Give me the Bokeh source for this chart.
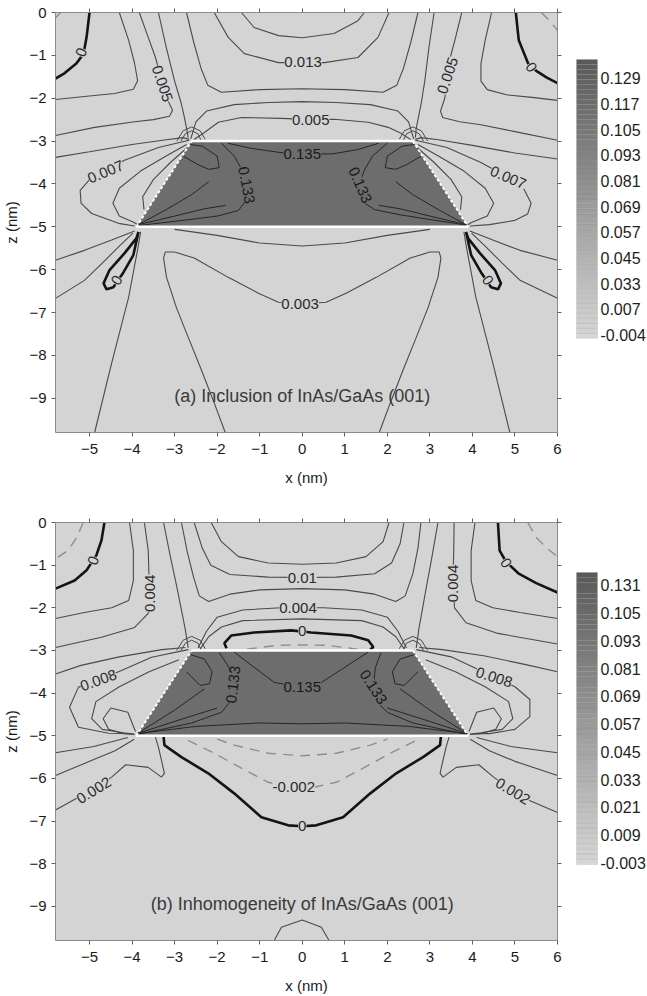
import numpy as np
from bokeh.plotting import figure
from bokeh.models import Range1d, LinearAxis, FixedTicker, ColumnDataSource, LabelSet, Label
from bokeh.layouts import row, column
from bokeh.embed import file_html
from bokeh.resources import INLINE
from bokeh.core.properties import value

FONT = "Liberation Sans"
X_TICKS = [-5, -4, -3, -2, -1, 0, 1, 2, 3, 4, 5, 6]
Z_TICKS = [0, -1, -2, -3, -4, -5, -6, -7, -8, -9]
X_RANGE = (-5.8, 6.0)
Z_RANGE = (-9.8, 0.0)

# quantum-dot cross-section (trapezoid)
TRAP_X = [-3.9, -2.6, 2.6, 3.9]
TRAP_Z = [-5.0, -3.0, -3.0, -5.0]

# small horseshoe contours hugging the top corners (both panels)
CORNER_X = [
    [-2.85, -2.75, -2.60, -2.45, -2.38],
    [-2.95, -2.80, -2.60, -2.40, -2.28],
    [2.85, 2.75, 2.60, 2.45, 2.38],
    [2.95, 2.80, 2.60, 2.40, 2.28],
]
CORNER_Z = [
    [-3.00, -2.83, -2.76, -2.83, -2.98],
    [-3.00, -2.76, -2.67, -2.76, -2.96],
    [-3.00, -2.83, -2.76, -2.83, -2.98],
    [-3.00, -2.76, -2.67, -2.76, -2.96],
]

# ---------------- panel (a) ----------------
A_TITLE = "(a) Inclusion of InAs/GaAs (001)"
A_CBAR_LABELS = ["0.129", "0.117", "0.105", "0.093", "0.081", "0.069",
                 "0.057", "0.045", "0.033", "0.007", "-0.004"]

A_THIN_X = [
    [-4.30, -4.08, -3.94, -3.87, -3.97, -4.41, -5.12, -5.80],
    [-3.83, -3.62, -3.45, -3.30, -3.19, -3.05, -3.12, -3.50, -3.94, -4.88, -5.80],
    [-3.38, -3.20, -3.00, -2.85, -2.78, -2.72, -2.68],
    [-2.72, -2.55, -2.38, -2.22, -1.90, -1.00, 0.00, 1.00, 1.90, 2.22, 2.38, 2.55, 2.72],
    [-2.07, -1.74, -1.36, -0.56, 0.00, 0.52, 1.31, 1.78, 2.04],
    [-1.43, -1.13, -0.56, 0.00, 0.75, 1.31, 1.46],
    [-2.62, -2.50, -2.25, -1.60, -0.80, 0.00, 0.80, 1.60, 2.25, 2.50, 2.62],
    [-2.55, -2.30, -1.97, -1.43, -0.49, 0.20, 0.75, 1.55, 2.02, 2.32, 2.56],
    [-5.80, -5.00, -4.00, -3.20, -2.80, -2.66],
    [-2.66, -3.38, -4.18, -4.62, -5.00, -5.22, -5.20, -4.95, -4.32, -3.94],
    [-2.72, -3.20, -3.80, -4.30, -4.45, -4.30, -3.95, -3.85],
    [-2.70, -3.10, -3.50, -3.75, -3.72],
    [-5.80, -5.12, -4.48, -3.94],
    [-5.80, -5.12, -4.70, -4.30, -3.98],
    [-4.88, -4.48, -4.08, -3.86, -3.80],
    [-1.81, -2.07, -2.37, -2.68, -2.96, -3.19, -3.26, -3.22, -3.00, -2.54, -1.74, -1.03, -0.56, 0.00,
     0.56, 1.03, 1.74, 2.54, 3.00, 3.22, 3.26, 3.19, 2.96, 2.68, 2.37, 2.07, 1.81],
    [-3.00, -2.00, -1.00, 0.00, 1.00, 2.00, 3.00],
    [4.45, 4.30, 4.20, 4.20, 4.35, 4.80, 5.40, 6.00],
    [3.75, 3.60, 3.48, 3.42, 3.35, 3.25, 3.30, 3.70, 4.20, 5.00, 6.00],
    [3.10, 2.98, 2.88, 2.80, 2.74, 2.68, 2.66],
    [6.00, 5.00, 4.00, 3.20, 2.80, 2.66],
    [2.66, 3.40, 4.20, 4.84, 5.20, 5.38, 5.30, 5.00, 4.40, 3.94],
    [2.72, 3.20, 3.80, 4.30, 4.50, 4.35, 3.98, 3.86],
    [2.70, 3.10, 3.50, 3.75, 3.72],
    [6.00, 5.12, 4.48, 3.94],
    [6.00, 5.12, 4.70, 4.30, 3.98],
    [4.88, 4.48, 4.08, 3.86, 3.80],
]
A_THIN_Z = [
    [0.00, -0.65, -1.19, -1.59, -1.79, -1.89, -1.96, -2.03],
    [0.00, -0.58, -1.05, -1.60, -1.98, -2.28, -2.42, -2.50, -2.55, -2.68, -2.87],
    [0.00, -0.80, -1.60, -2.10, -2.40, -2.70, -2.92],
    [0.00, -0.70, -1.30, -1.70, -1.86, -1.80, -1.78, -1.80, -1.86, -1.70, -1.30, -0.70, 0.00],
    [0.00, -0.58, -0.96, -1.17, -1.17, -1.17, -1.05, -0.58, 0.00],
    [0.00, -0.35, -0.54, -0.59, -0.49, -0.19, 0.00],
    [-2.95, -2.55, -2.30, -2.15, -2.10, -2.08, -2.10, -2.15, -2.30, -2.55, -2.95],
    [-2.97, -2.80, -2.56, -2.45, -2.47, -2.50, -2.49, -2.56, -2.68, -2.82, -2.97],
    [-3.38, -3.25, -3.08, -2.97, -2.92, -2.96],
    [-2.98, -3.15, -3.45, -3.68, -3.90, -4.15, -4.45, -4.69, -4.92, -4.98],
    [-3.08, -3.35, -3.70, -4.10, -4.45, -4.75, -4.90, -4.97],
    [-3.15, -3.50, -3.90, -4.30, -4.60],
    [-5.78, -5.55, -5.31, -5.10],
    [-6.67, -6.25, -5.85, -5.45, -5.15],
    [-9.80, -8.18, -6.64, -5.48, -5.12],
    [-9.80, -9.11, -8.34, -7.58, -6.88, -6.18, -5.73, -5.59, -5.59, -5.73, -6.18, -6.55, -6.76, -6.80,
     -6.76, -6.55, -6.18, -5.73, -5.59, -5.59, -5.73, -6.18, -6.88, -7.58, -8.34, -9.11, -9.80],
    [-5.06, -5.20, -5.38, -5.45, -5.38, -5.20, -5.06],
    [0.00, -0.65, -1.20, -1.60, -1.80, -1.92, -1.98, -2.05],
    [0.00, -0.60, -1.05, -1.47, -2.00, -2.30, -2.45, -2.55, -2.62, -2.78, -2.98],
    [0.00, -0.80, -1.60, -2.10, -2.40, -2.70, -2.92],
    [-3.42, -3.28, -3.10, -2.97, -2.92, -2.96],
    [-2.98, -3.15, -3.50, -3.85, -4.10, -4.45, -4.70, -4.85, -4.95, -4.98],
    [-3.08, -3.35, -3.70, -4.10, -4.45, -4.75, -4.90, -4.97],
    [-3.15, -3.50, -3.90, -4.30, -4.60],
    [-5.78, -5.55, -5.31, -5.10],
    [-6.67, -6.25, -5.85, -5.45, -5.15],
    [-9.80, -8.18, -6.64, -5.48, -5.12],
]
A_INNER_X = [
    [-1.75, -1.20, -0.50, 0.00, 0.70, 1.30, 1.80],
    [-1.90, -1.60, -1.40, -1.31, -1.33, -1.50, -2.00, -2.80, -3.50, -3.85],
    [2.00, 1.65, 1.45, 1.34, 1.40, 1.70, 2.30, 3.00, 3.60, 3.88],
    [-2.63, -2.35, -2.00, -1.95, -2.20, -2.45, -2.80],
    [2.63, 2.35, 2.00, 1.95, 2.20, 2.45, 2.80],
    [-3.85, -3.20, -2.60, -2.20],
    [-3.85, -3.00, -2.30, -1.80],
    [3.85, 3.20, 2.60, 2.20],
    [3.85, 3.00, 2.30, 1.80],
]
A_INNER_Z = [
    [-3.05, -3.17, -3.27, -3.30, -3.30, -3.20, -3.05],
    [-3.05, -3.35, -3.70, -4.03, -4.40, -4.62, -4.75, -4.85, -4.93, -4.97],
    [-3.05, -3.35, -3.70, -4.03, -4.40, -4.60, -4.72, -4.83, -4.92, -4.97],
    [-3.08, -3.12, -3.35, -3.62, -3.66, -3.55, -3.35],
    [-3.08, -3.12, -3.35, -3.62, -3.66, -3.55, -3.35],
    [-4.95, -4.60, -4.25, -3.95],
    [-4.95, -4.75, -4.58, -4.50],
    [-4.95, -4.60, -4.25, -3.95],
    [-4.95, -4.75, -4.58, -4.50],
]
A_ZERO_X = [
    [-5.00, -5.07, -5.14, -5.31, -5.59, -5.80],
    [5.02, 5.09, 5.31, 5.50, 5.75, 6.00],
    [-3.85, -3.90, -4.18, -4.53, -4.67, -4.60, -4.44, -4.20, -3.97, -3.85],
    [3.85, 3.90, 4.18, 4.53, 4.67, 4.60, 4.44, 4.20, 3.97, 3.85],
]
A_ZERO_Z = [
    [0.00, -0.58, -0.96, -1.19, -1.42, -1.54],
    [0.00, -0.65, -1.19, -1.36, -1.52, -1.65],
    [-5.12, -5.27, -5.62, -6.01, -6.32, -6.46, -6.41, -6.06, -5.66, -5.12],
    [-5.12, -5.27, -5.62, -6.01, -6.32, -6.46, -6.41, -6.06, -5.66, -5.12],
]
A_NEG_X = [[5.62, 5.82, 6.00], [-5.68, -5.80]]
A_NEG_Z = [[0.00, -0.20, -0.42], [0.00, -0.12]]

A_LABEL_TEXT = ["0", "0", "0", "0", "0.005", "0.005", "0.013", "0.005", "0.007", "0.007", "0.003"]
A_LABEL_X = [-5.19, 5.38, -4.36, 4.36, -3.29, 3.42, 0.02, 0.20, -4.62, 4.84, -0.05]
A_LABEL_Z = [-0.93, -1.28, -6.25, -6.25, -1.66, -1.47, -1.16, -2.50, -3.72, -3.85, -6.79]
A_LABEL_ANGLE = [1.2, -1.0, 1.0, -1.0, -1.25, 1.25, 0.0, 0.0, 0.40, -0.40, 0.0]

A_IN_TEXT = ["0.135", "0.133", "0.133"]
A_IN_X = [0.00, -1.31, 1.36]
A_IN_Z = [-3.30, -4.03, -4.03]
A_IN_ANGLE = [0.0, -1.38, -1.15]

# ---------------- panel (b) ----------------
B_TITLE = "(b) Inhomogeneity of InAs/GaAs (001)"
B_CBAR_LABELS = ["0.131", "0.105", "0.093", "0.081", "0.069", "0.057",
                 "0.045", "0.033", "0.021", "0.009", "-0.003"]

B_THIN_X = [
    [-4.06, -3.97, -3.97, -4.08, -4.48, -5.12, -5.80],
    [-3.71, -3.62, -3.59, -3.62, -3.94, -4.72, -5.80],
    [-3.26, -3.10, -2.95, -2.85, -2.75, -2.68],
    [-2.84, -2.70, -2.55, -2.42, -2.20, -1.70, -1.00, 0.00, 1.00, 1.70, 2.20, 2.42, 2.60, 2.72, 2.79],
    [-2.54, -2.35, -2.15, -1.70, -0.80, 0.00, 0.80, 1.70, 2.10, 2.30, 2.39],
    [-2.14, -1.90, -1.50, -0.80, 0.00, 0.80, 1.50, 1.90, 2.04],
    [-2.45, -2.25, -2.00, -1.40, -0.50, 0.50, 1.40, 2.00, 2.25, 2.45],
    [-2.40, -2.20, -1.90, -1.40, 0.00, 1.40, 1.90, 2.20, 2.40],
    [-5.80, -5.20, -4.30, -3.30, -2.75],
    [-2.68, -3.54, -4.25, -4.79, -5.26, -5.47, -5.26, -4.55, -4.01],
    [-2.90, -3.60, -4.30, -4.85, -4.95, -4.70, -4.20, -3.95],
    [-3.92, -4.10, -4.50, -4.68, -4.55, -4.20, -3.94],
    [-5.80, -5.26, -4.90, -4.48, -4.15, -3.62, -3.31, -3.24, -3.31, -3.38, -3.45],
    [-5.80, -5.00, -4.40, -3.95],
    [-5.80, -4.90, -4.10],
    [-0.66, -0.49, 0.00, 0.45, 0.63],
    [4.06, 3.97, 3.97, 4.08, 4.48, 5.12, 6.00],
    [3.57, 3.56, 3.54, 3.58, 3.85, 4.60, 6.00],
    [3.19, 3.05, 2.92, 2.83, 2.74, 2.68],
    [6.00, 5.20, 4.30, 3.30, 2.75],
    [2.68, 3.50, 4.00, 4.51, 5.00, 5.35, 5.35, 5.00, 4.40, 4.01],
    [2.90, 3.60, 4.30, 4.85, 4.95, 4.70, 4.20, 3.95],
    [3.92, 4.10, 4.50, 4.68, 4.55, 4.20, 3.94],
    [6.00, 5.30, 4.95, 4.50, 4.15, 3.62, 3.31, 3.24, 3.31, 3.38, 3.45],
    [6.00, 5.00, 4.40, 3.95],
    [6.00, 4.90, 4.10],
]
B_THIN_Z = [
    [0.00, -0.66, -1.36, -1.83, -2.00, -2.11, -2.25],
    [0.00, -0.66, -1.66, -2.13, -2.46, -2.69, -2.93],
    [0.00, -0.80, -1.50, -2.00, -2.50, -2.94],
    [0.00, -0.70, -1.30, -1.72, -1.85, -1.68, -1.58, -1.55, -1.58, -1.68, -1.85, -1.72, -1.20, -0.60, 0.00],
    [0.00, -0.60, -1.00, -1.22, -1.28, -1.29, -1.28, -1.20, -0.95, -0.50, 0.00],
    [0.00, -0.45, -0.80, -0.95, -0.98, -0.95, -0.80, -0.45, 0.00],
    [-2.94, -2.55, -2.22, -2.05, -2.00, -2.00, -2.05, -2.22, -2.55, -2.94],
    [-2.97, -2.68, -2.45, -2.30, -2.26, -2.30, -2.45, -2.68, -2.97],
    [-3.55, -3.35, -3.15, -2.98, -2.93],
    [-2.98, -3.16, -3.47, -3.70, -3.86, -4.33, -4.80, -4.94, -4.95],
    [-3.22, -3.50, -3.85, -4.20, -4.60, -4.85, -4.93, -4.96],
    [-4.90, -4.45, -4.35, -4.60, -4.85, -4.95, -4.97],
    [-6.74, -6.44, -6.28, -5.97, -5.68, -5.74, -5.97, -5.88, -5.57, -5.27, -5.03],
    [-5.93, -5.60, -5.35, -5.08],
    [-5.40, -5.25, -5.04],
    [-9.80, -9.49, -9.32, -9.49, -9.80],
    [0.00, -0.66, -1.36, -1.83, -2.00, -2.11, -2.25],
    [0.00, -0.70, -1.43, -2.00, -2.35, -2.60, -2.85],
    [0.00, -0.80, -1.50, -2.00, -2.50, -2.94],
    [-3.50, -3.32, -3.13, -2.98, -2.93],
    [-2.98, -3.15, -3.38, -3.63, -3.85, -4.15, -4.55, -4.85, -4.95, -4.95],
    [-3.22, -3.50, -3.85, -4.20, -4.60, -4.85, -4.93, -4.96],
    [-4.90, -4.45, -4.35, -4.60, -4.85, -4.95, -4.97],
    [-6.80, -6.50, -6.30, -5.97, -5.68, -5.74, -5.97, -5.88, -5.57, -5.27, -5.03],
    [-5.93, -5.60, -5.35, -5.08],
    [-5.40, -5.25, -5.04],
]
B_INNER_X = [
    [-1.60, -0.66, 0.00, 0.45, 1.55],
    [-1.95, -1.72, -1.62, -1.65, -1.90, -2.60, -3.30, -3.88],
    [1.85, 1.72, 1.67, 1.75, 2.00, 2.60, 3.30, 3.88],
    [-2.62, -2.30, -2.12, -2.18, -2.40, -2.72],
    [2.62, 2.30, 2.12, 2.18, 2.40, 2.72],
    [-3.88, -2.50, -1.00, 0.00, 1.00, 2.50, 3.88],
    [-3.88, -3.00, -2.30],
    [-3.88, -2.80, -2.00],
    [3.88, 3.00, 2.30],
    [3.88, 2.80, 2.00],
]
B_INNER_Z = [
    [-3.04, -3.75, -3.86, -3.75, -3.04],
    [-3.05, -3.40, -3.80, -4.15, -4.45, -4.70, -4.85, -4.97],
    [-3.05, -3.40, -3.86, -4.20, -4.45, -4.70, -4.85, -4.97],
    [-3.10, -3.20, -3.50, -3.78, -3.82, -3.50],
    [-3.10, -3.20, -3.50, -3.78, -3.82, -3.50],
    [-4.95, -4.78, -4.70, -4.72, -4.70, -4.78, -4.95],
    [-4.95, -4.40, -3.90],
    [-4.95, -4.60, -4.35],
    [-4.95, -4.40, -3.90],
    [-4.95, -4.60, -4.35],
]
B_ZERO_X = [
    [-4.65, -4.72, -4.84, -5.07, -5.35, -5.80],
    [4.60, 4.64, 4.79, 5.09, 5.50, 6.00],
    [-1.78, -1.83, -1.67, -1.13, -0.26, 0.21, 1.15, 1.55, 1.67, 1.60],
    [-3.26, -3.24, -2.84, -2.21, -1.60, -0.96, -0.33, 0.00, 0.33, 0.96, 1.60, 2.21, 2.84, 3.24, 3.26],
]
B_ZERO_Z = [
    [0.00, -0.42, -0.77, -1.12, -1.36, -1.55],
    [0.00, -0.66, -0.92, -1.20, -1.42, -1.64],
    [-2.95, -2.83, -2.65, -2.58, -2.53, -2.58, -2.65, -2.76, -2.92, -2.98],
    [-5.00, -5.22, -5.50, -5.88, -6.35, -6.91, -7.10, -7.12, -7.10, -6.91, -6.35, -5.88, -5.50, -5.22, -5.00],
]
B_NEG_X = [
    [-5.15, -5.30, -5.50, -5.80],
    [5.30, 5.50, 5.75, 6.00],
    [-2.68, -2.07, -1.43, -0.80, -0.30, 0.30, 0.80, 1.43, 2.07, 2.68],
    [-2.00, -1.60, -0.80, 0.00, 0.80, 1.60, 2.00],
    [-1.30, -0.60, 0.00, 0.60, 1.30],
]
B_NEG_Z = [
    [0.00, -0.35, -0.65, -0.85],
    [0.00, -0.35, -0.60, -0.80],
    [-5.11, -5.41, -5.76, -6.09, -6.20, -6.20, -6.09, -5.76, -5.41, -5.11],
    [-5.08, -5.22, -5.41, -5.47, -5.41, -5.22, -5.08],
    [-2.97, -2.88, -2.87, -2.88, -2.97],
]

B_LABEL_TEXT = ["0", "0", "0", "0", "0.004", "0.004", "0.01", "0.004",
                "0.008", "0.008", "0.002", "0.002", "-0.002"]
B_LABEL_X = [-4.91, 4.79, 0.00, 0.00, -3.59, 3.54, 0.00, -0.10, -4.79, 4.51, -4.90, 4.95, -0.20]
B_LABEL_Z = [-0.89, -0.95, -2.55, -7.12, -1.66, -1.43, -1.29, -2.01, -3.70, -3.63, -6.28, -6.30, -6.20]
B_LABEL_ANGLE = [1.2, -1.0, 0.0, 0.0, 1.5708, 1.5708, 0.0, 0.0, 0.35, -0.30, 0.55, -0.55, 0.0]

B_IN_TEXT = ["0.135", "0.133", "0.133"]
B_IN_X = [0.00, -1.62, 1.67]
B_IN_Z = [-3.86, -3.80, -3.86]
B_IN_ANGLE = [0.0, 1.45, -1.0]

# ---------------- styling ----------------
BG = "#d4d4d4"
TRAP_FILL = "#6d6d6d"
AXIS_GREY = "#8c8c8c"


def style_axis(ax):
    ax.major_tick_in = 0
    ax.major_tick_out = 4
    ax.minor_tick_line_color = None
    ax.axis_line_color = AXIS_GREY
    ax.major_tick_line_color = "#606060"
    ax.major_label_text_font = FONT
    ax.major_label_text_font_size = "15px"
    ax.major_label_text_color = "#1a1a1a"
    ax.axis_label_text_font = FONT
    ax.axis_label_text_font_size = "15px"
    ax.axis_label_text_font_style = "normal"
    ax.axis_label_text_color = "#1a1a1a"


def panel(thin_x, thin_z, inner_x, inner_z, zero_x, zero_z, neg_x, neg_z,
          lab_text, lab_x, lab_z, lab_ang, in_text, in_x, in_z, in_ang,
          title, height, top, bottom):
    p = figure(width=565, height=height, x_range=Range1d(*X_RANGE), y_range=Range1d(*Z_RANGE),
               output_backend="svg", toolbar_location=None,
               min_border_left=54, min_border_right=8, min_border_top=top, min_border_bottom=bottom,
               background_fill_color=BG, border_fill_color="white", outline_line_color=None)
    p.grid.visible = False
    p.xaxis.ticker = FixedTicker(ticks=X_TICKS)
    p.yaxis.ticker = FixedTicker(ticks=Z_TICKS)
    for ax in list(p.xaxis) + list(p.yaxis):
        style_axis(ax)
    p.xaxis.axis_label = "x (nm)"
    p.yaxis.axis_label = "z (nm)"
    p.xaxis.major_label_standoff = 7
    p.xaxis.axis_label_standoff = 12
    p.yaxis.major_label_standoff = 5
    p.yaxis.axis_label_standoff = 6

    top_ax = LinearAxis(ticker=FixedTicker(ticks=X_TICKS),
                        major_label_overrides={t: "" for t in X_TICKS},
                        major_label_standoff=0)
    style_axis(top_ax)
    top_ax.major_label_text_font_size = "1px"
    p.add_layout(top_ax, "above")
    right_ax = LinearAxis(ticker=FixedTicker(ticks=Z_TICKS),
                          major_label_overrides={t: "" for t in Z_TICKS},
                          major_label_standoff=0)
    style_axis(right_ax)
    right_ax.major_label_text_font_size = "1px"
    p.add_layout(right_ax, "right")

    p.patch(TRAP_X, TRAP_Z, fill_color=TRAP_FILL, line_color=None)
    p.multi_line(xs=inner_x, ys=inner_z, line_color="#262626", line_width=1)
    p.multi_line(xs=thin_x, ys=thin_z, line_color="#4a4a4a", line_width=1.1)
    p.multi_line(xs=CORNER_X, ys=CORNER_Z, line_color="#4a4a4a", line_width=1.0)
    p.multi_line(xs=neg_x, ys=neg_z, line_color="#8e8e8e", line_width=1.4, line_dash="10 7")
    p.multi_line(xs=zero_x, ys=zero_z, line_color="#141414", line_width=2.6)

    p.line(x=[TRAP_X[1], TRAP_X[2]], y=[TRAP_Z[1], TRAP_Z[2]], line_color="white", line_width=2.5)
    p.line(x=[TRAP_X[0], TRAP_X[3]], y=[TRAP_Z[0], TRAP_Z[3]], line_color="white", line_width=2.5)
    p.line(x=TRAP_X[:2], y=TRAP_Z[:2], line_color="white", line_width=2, line_dash="3 2")
    p.line(x=TRAP_X[2:], y=TRAP_Z[2:], line_color="white", line_width=2, line_dash="3 2")

    src_out = ColumnDataSource(dict(x=lab_x, y=lab_z, text=lab_text, angle=lab_ang))
    p.add_layout(LabelSet(x="x", y="y", text="text", angle="angle", source=src_out,
                          text_align="center", text_baseline="middle",
                          text_font=value(FONT), text_font_size=value("15px"),
                          text_color="#2a2a2a", background_fill_color=BG))
    src_in = ColumnDataSource(dict(x=in_x, y=in_z, text=in_text, angle=in_ang))
    p.add_layout(LabelSet(x="x", y="y", text="text", angle="angle", source=src_in,
                          text_align="center", text_baseline="middle",
                          text_font=value(FONT), text_font_size=value("15px"),
                          text_color="#1a1a1a", background_fill_color=TRAP_FILL))

    p.add_layout(Label(x=0.0, y=-8.95, text=title, text_align="center", text_baseline="middle",
                       text_font=FONT, text_font_size="18px", text_color="#3a3a3a"))
    return p


def colorbar(labels_top_down, lo, hi, bar_lo, bar_hi, height):
    cb = figure(width=82, height=height, x_range=Range1d(0, 82), y_range=Range1d(lo, hi),
                output_backend="svg", toolbar_location=None, min_border=0,
                x_axis_type=None, y_axis_type=None, outline_line_color=None,
                background_fill_color="white", border_fill_color="white")
    cb.grid.visible = False
    n = 56
    edges = np.linspace(bar_lo, bar_hi, n + 1)
    shades = np.linspace(214, 90, n).astype(int)
    colors = ["#%02x%02x%02x" % (s, s, s) for s in shades]
    cb.quad(left=11, right=32, bottom=edges[:-1], top=edges[1:], fill_color=colors,
            line_color="#7a7a7a", line_alpha=0.25, line_width=0.6)
    labels = list(reversed(labels_top_down))
    cb.text(x=[35] * len(labels), y=list(range(len(labels))), text=labels,
            text_font=value(FONT), text_font_size=value("16px"),
            text_baseline="middle", text_align="left", text_color="#1e1e1e")
    return cb


pa = panel(A_THIN_X, A_THIN_Z, A_INNER_X, A_INNER_Z, A_ZERO_X, A_ZERO_Z, A_NEG_X, A_NEG_Z,
           A_LABEL_TEXT, A_LABEL_X, A_LABEL_Z, A_LABEL_ANGLE, A_IN_TEXT, A_IN_X, A_IN_Z, A_IN_ANGLE,
           A_TITLE, 512, 12, 80)
pb = panel(B_THIN_X, B_THIN_Z, B_INNER_X, B_INNER_Z, B_ZERO_X, B_ZERO_Z, B_NEG_X, B_NEG_Z,
           B_LABEL_TEXT, B_LABEL_X, B_LABEL_Z, B_LABEL_ANGLE, B_IN_TEXT, B_IN_X, B_IN_Z, B_IN_ANGLE,
           B_TITLE, 484, 10, 56)
ca = colorbar(A_CBAR_LABELS, -3.80, 12.56, -0.13, 10.73, 512)
cbb = colorbar(B_CBAR_LABELS, -2.80, 12.27, -0.06, 10.47, 484)

layout = column(row(pa, ca), row(pb, cbb))
open("out.html", "w").write(file_html(layout, INLINE))
